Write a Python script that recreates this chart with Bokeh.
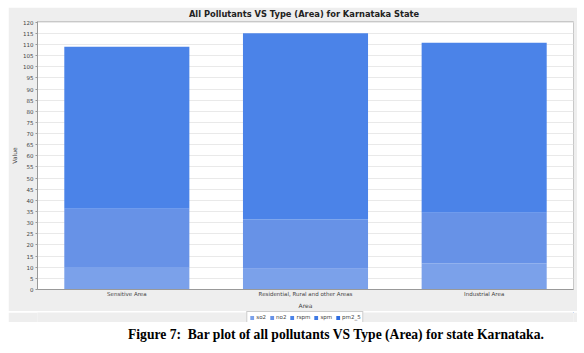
from bokeh.plotting import figure
from bokeh.models import FactorRange, Range1d, Legend, LegendItem, Div, SingleIntervalTicker
from bokeh.layouts import column
from bokeh.embed import file_html
from bokeh.resources import INLINE

areas = ["Sensitive Area", "Residential, Rural and other Areas", "Industrial Area"]
pollutants = ["so2", "no2", "rspm", "spm", "pm2_5"]
so2 = [10.1, 9.3, 11.7]
no2 = [26.1, 22.1, 22.7]
rspm = [72.8, 83.6, 76.4]
spm = [0.0, 0.0, 0.0]
pm2_5 = [0.0, 0.0, 0.0]
colors = ["#7ba1ea", "#6792e7", "#4b83e8", "#3f7ae4", "#2e6cdf"]

data = {"area": areas, "so2": so2, "no2": no2, "rspm": rspm, "spm": spm, "pm2_5": pm2_5}

GRAY = "#eeeeee"
p = figure(x_range=FactorRange(*areas, range_padding=0), y_range=Range1d(0, 120.3),
           width=569, height=304, output_backend="svg", toolbar_location=None,
           background_fill_color="white", border_fill_color=GRAY,
           min_border_left=22, min_border_right=4, min_border_top=14, min_border_bottom=18,
           outline_line_color="#c8c8c8",
           title="All Pollutants VS Type (Area) for  Karnataka State")
p.margin = (7, 7, 0, 8)
p.title.align = "center"
p.title.vertical_align = "top"
p.title.text_font = "DejaVu Sans"
p.title.text_font_style = "bold"
p.title.text_font_size = "8.3px"
p.title.text_color = "#222222"
p.title.standoff = 1

rs = p.vbar_stack(pollutants, x="area", width=0.7, source=data, color=colors, line_color=None)

p.xgrid.grid_line_color = None
p.ygrid.grid_line_color = "#e9e9e9"
p.yaxis.ticker = SingleIntervalTicker(interval=5, num_minor_ticks=0)
for ax in (p.xaxis[0], p.yaxis[0]):
    ax.axis_line_color = "#999999"
    ax.major_tick_line_color = "#999999"
    ax.minor_tick_line_color = None
    ax.major_label_text_font = "DejaVu Sans"
    ax.major_label_text_font_size = "5.5px"
    ax.major_label_text_color = "#444444"
    ax.axis_label_text_font = "DejaVu Sans"
    ax.axis_label_text_font_size = "6px"
    ax.axis_label_text_font_style = "normal"
    ax.axis_label_text_color = "#444444"
    ax.major_label_standoff = 2
    ax.axis_label_standoff = 2
p.yaxis.major_tick_out = 2
p.yaxis.major_tick_in = 0
p.xaxis.major_tick_out = 0
p.xaxis.major_tick_in = 0
p.xaxis.major_label_standoff = 1
p.xaxis.axis_label_standoff = 2
p.yaxis.axis_label = "Value"
p.xaxis.axis_label = "Area"

# legend strip (separate small figure with the same swatch colours)
lg = figure(width=569, height=11, output_backend="svg", toolbar_location=None,
            x_range=Range1d(0, 1), y_range=Range1d(0, 1),
            background_fill_color=GRAY, border_fill_color=GRAY,
            min_border=0, outline_line_color=None)
lg.margin = (0, 7, 0, 8)
lg.axis.visible = False
lg.grid.visible = False
swatches = [lg.vbar(x=[5], top=[5], bottom=[4], width=0.1, color=c, line_color=None) for c in colors]
legend = Legend(items=[LegendItem(label=n, renderers=[r]) for n, r in zip(pollutants, swatches)],
                orientation="horizontal", location="top", margin=0, padding=2, spacing=3,
                glyph_width=5, glyph_height=5, label_height=5, label_width=6, label_standoff=2,
                label_text_font="DejaVu Sans", label_text_font_size="5.5px",
                label_text_color="#444444", border_line_color="#999999",
                background_fill_color="white")
lg.add_layout(legend, "center")

caption = Div(text="Figure 7:&nbsp; Bar plot of all pollutants VS Type (Area) for state Karnataka.",
              width=460, height=20, margin=(3, 0, 0, 128),
              styles={"font-family": "'Liberation Serif', serif", "font-weight": "bold",
                      "font-size": "13.6px", "color": "#000", "white-space": "nowrap"})

layout = column(p, lg, caption, margin=0, spacing=0)
open("out.html", "w").write(file_html(layout, INLINE))
